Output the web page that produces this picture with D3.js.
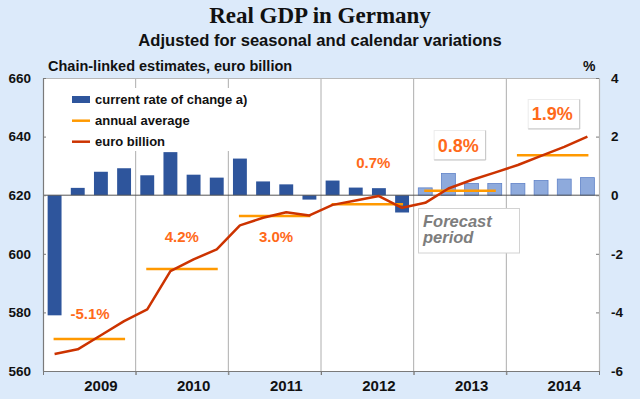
<!DOCTYPE html>
<html><head><meta charset="utf-8">
<script src="https://cdn.jsdelivr.net/npm/d3@7"></script>
<style>
html,body{margin:0;padding:0;background:#dceafa;}
svg{display:block;}
text{font-family:"Liberation Sans",Arial,sans-serif;}
</style></head>
<body>
<svg id="c" width="640" height="399"></svg>
<script>
// ---- data ----
const years = ["2009","2010","2011","2012","2013","2014"];
const quarters = years.flatMap(y => ["Q1","Q2","Q3","Q4"].map(q => y + q));
const rateOfChange = [-4.1, 0.25, 0.8, 0.92,  0.68, 1.47, 0.7, 0.6,  1.25, 0.47, 0.37, -0.15,
                      0.5, 0.26, 0.24, -0.59,  0.25, 0.74, 0.4, 0.4,  0.4, 0.5, 0.55, 0.6];
const forecastFrom = "2013Q1";
const euroBillion = [565.8, 567.4, 572.2, 577.0,  581.0, 594.1, 598.1, 601.5,  609.7, 612.3, 614.2, 613.1,
                     616.7, 618.2, 619.7, 615.7,  617.4, 622.3, 625.2, 627.7,  630.3, 633.4, 636.5, 640.0];
const annualAverage = [570.9, 594.8, 612.9, 616.9, 621.5, 633.6];
const annualGrowthLabels = ["-5.1%", "4.2%", "3.0%", "0.7%", "0.8%", "1.9%"];
const leftTicks = [560, 580, 600, 620, 640, 660];
const rightTicks = [-6, -4, -2, 0, 2, 4];
const legendLabels = ["current rate of change a)", "annual average", "euro billion"];

// ---- layout ----
const svg = d3.select("#c");
const L = 43, R = 599, T = 78, B = 371;
const xq = d3.scaleLinear().domain([0, 24]).range([L, R]);
const xb = d3.scaleBand().domain(quarters).range([L, R]).paddingInner(0.4).paddingOuter(0.2);
const xc = q => xb(q) + xb.bandwidth() / 2;
const yL = d3.scaleLinear().domain([560, 660]).range([B, T]);
const yR = d3.scaleLinear().domain([-6, 4]).range([B, T]);

const C = {bar:"#2e559c", fbar:"#8eaadc", fbarStroke:"#5f82c8", line:"#cc3300", avg:"#ff9900", lab:"#ff6a1a", grid:"#aeaeae", axis:"#7a7a7a"};

// title
svg.append("text").attr("x", 320).attr("y", 23).attr("text-anchor", "middle")
  .style("font-family", '"Liberation Serif","Times New Roman",serif').style("font-weight", "bold").style("font-size", "23px")
  .attr("fill", "#111").text("Real GDP in Germany");
svg.append("text").attr("x", 320).attr("y", 46).attr("text-anchor", "middle")
  .style("font-weight", "bold").style("font-size", "16.6px").attr("fill", "#111")
  .text("Adjusted for seasonal and calendar variations");
svg.append("text").attr("x", 48).attr("y", 71).style("font-weight", "bold").style("font-size", "14.5px")
  .attr("fill", "#111").text("Chain-linked  estimates, euro billion");
svg.append("text").attr("x", 583).attr("y", 71).style("font-weight", "bold").style("font-size", "14px")
  .attr("fill", "#111").text("%");

// plot background
svg.append("rect").attr("x", L).attr("y", T).attr("width", R - L).attr("height", B - T).attr("fill", "#fff");

// vertical gridlines at year boundaries
svg.append("g").selectAll("line").data(d3.range(1, 6)).join("line")
  .attr("x1", d => xq(d * 4)).attr("x2", d => xq(d * 4)).attr("y1", T).attr("y2", B + 4)
  .attr("stroke", C.grid).attr("stroke-width", 1);

// frame top/right
svg.append("path").attr("d", `M${L},${T + 0.5}H${R + 0.5}V${B}`).attr("fill", "none").attr("stroke", "#b8b8b8");

// legend background
svg.append("rect").attr("x", 66).attr("y", 88).attr("width", 186).attr("height", 63).attr("fill", "#fff");

// bars
const fIdx = quarters.indexOf(forecastFrom);
svg.append("g").selectAll("rect").data(quarters).join("rect")
  .attr("x", d => xb(d)).attr("width", xb.bandwidth())
  .attr("y", (d, i) => yR(Math.max(0, rateOfChange[i])))
  .attr("height", (d, i) => Math.abs(yR(rateOfChange[i]) - yR(0)))
  .attr("fill", (d, i) => i >= fIdx ? C.fbar : C.bar)
  .attr("stroke", (d, i) => i >= fIdx ? C.fbarStroke : "none").attr("stroke-width", 0.8);

// zero line
svg.append("line").attr("x1", L).attr("x2", R).attr("y1", yR(0)).attr("y2", yR(0)).attr("stroke", "#555").attr("stroke-width", 1);

// forecast box
svg.append("rect").attr("x", 418.5).attr("y", 208.5).attr("width", 101).attr("height", 44.5)
  .attr("fill", "#fff").attr("stroke", "#d2d2d2");
svg.append("text").attr("x", 423).attr("y", 226.5).style("font-weight", "bold").style("font-style", "italic")
  .style("font-size", "16.5px").attr("fill", "#7d7d7d").text("Forecast");
svg.append("text").attr("x", 423).attr("y", 243).style("font-weight", "bold").style("font-style", "italic")
  .style("font-size", "16.5px").attr("fill", "#7d7d7d").text("period");

// annual averages
svg.append("g").selectAll("line").data(years).join("line")
  .attr("x1", (d, i) => xc(quarters[i * 4]) - 1).attr("x2", (d, i) => xc(quarters[i * 4 + 3]) + 1)
  .attr("y1", (d, i) => yL(annualAverage[i])).attr("y2", (d, i) => yL(annualAverage[i]))
  .attr("stroke", C.avg).attr("stroke-width", 2.5);

// euro billion line
svg.append("path").datum(euroBillion)
  .attr("d", d3.line().x((d, i) => xc(quarters[i])).y(d => yL(d)))
  .attr("fill", "none").attr("stroke", C.line).attr("stroke-width", 2.5).attr("stroke-linejoin", "round");

// annual growth labels (quarter-position, euro-billion baseline, size, boxed)
const labelPos = [[2.03, 577.7, 15, false], [5.99, 603.9, 15, false], [10.06, 603.9, 15, false],
                  [14.26, 629.3, 15, false], [17.92, 634.9, 18, true], [21.98, 645.5, 18, true]];
annualGrowthLabels.forEach((t, i) => {
  const [q, v, fs, boxed] = labelPos[i];
  const x = xq(q), y = yL(v);
  if (boxed) {
    svg.append("rect").attr("x", x - 24).attr("y", y - 21).attr("width", 51.5).attr("height", 29)
      .attr("fill", "#fff").attr("stroke", "#ececec");
    svg.append("path").attr("d", `M${x + 27.5},${y - 21}V${y + 8.5}H${x - 24}`).attr("fill", "none").attr("stroke", "#c4c4c4");
  }
  svg.append("text").attr("x", x).attr("y", y).attr("text-anchor", "middle")
    .style("font-weight", "bold").style("font-size", fs + "px").attr("fill", C.lab).text(t);
});

// axes
const fmt = d => String(d);
const axL = svg.append("g").attr("transform", `translate(${L},0)`)
  .call(d3.axisLeft(yL).tickValues(leftTicks).tickSizeInner(-3).tickSizeOuter(0).tickPadding(12).tickFormat(fmt));
const axR = svg.append("g").attr("transform", `translate(${R},0)`)
  .call(d3.axisRight(yR).tickValues(rightTicks).tickSizeInner(-3).tickSizeOuter(0).tickPadding(12).tickFormat(fmt));
const axB = svg.append("g").attr("transform", `translate(0,${B})`)
  .call(d3.axisBottom(xq).tickValues(d3.range(0, 25, 4)).tickSizeInner(4).tickSizeOuter(0).tickFormat(""));
[axL, axR, axB].forEach(a => {
  a.select(".domain").attr("stroke", C.axis).attr("stroke-width", 1.2);
  a.selectAll(".tick line").attr("stroke", C.axis);
  a.selectAll("text").style("font-family", '"Liberation Sans",Arial,sans-serif').style("font-weight", "bold")
    .style("font-size", "13.5px").attr("fill", "#111");
});
axR.select(".domain").attr("stroke", "#b8b8b8");
axR.selectAll("text").attr("text-anchor", "start");

// year labels (centred under Q3 of each year)
svg.append("g").selectAll("text").data(years).join("text")
  .attr("x", (d, i) => xc(quarters[i * 4 + 2])).attr("y", 391)
  .attr("text-anchor", "middle").style("font-weight", "bold").style("font-size", "15px").attr("fill", "#111")
  .text(d => d);

// legend
const lg = svg.append("g");
lg.append("rect").attr("x", 72).attr("y", 96).attr("width", 18).attr("height", 7).attr("fill", C.bar);
lg.append("line").attr("x1", 72).attr("x2", 90).attr("y1", 120.7).attr("y2", 120.7).attr("stroke", C.avg).attr("stroke-width", 2.5);
lg.append("line").attr("x1", 72).attr("x2", 90).attr("y1", 141.7).attr("y2", 141.7).attr("stroke", C.line).attr("stroke-width", 2.5);
lg.selectAll("text").data(legendLabels).join("text")
  .attr("x", 95).attr("y", (d, i) => 104 + i * 21)
  .style("font-weight", "bold").style("font-size", "13px").attr("fill", "#111").text(d => d);
</script>
</body></html>
